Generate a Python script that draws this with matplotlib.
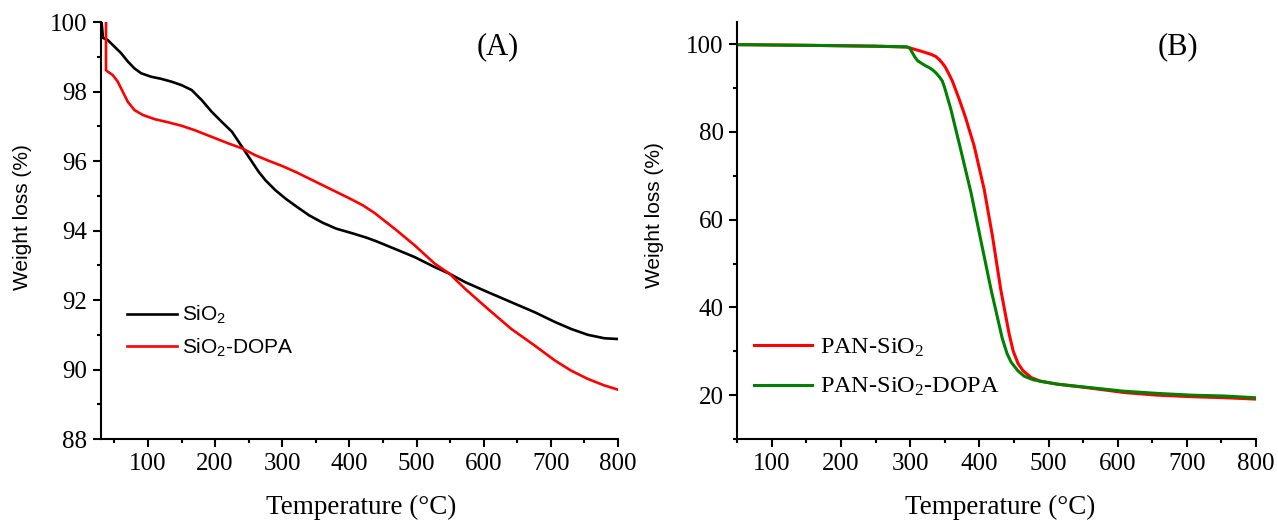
import matplotlib
matplotlib.use("Agg")
import matplotlib.pyplot as plt
from matplotlib.ticker import MultipleLocator

plt.rcParams['font.family'] = ['Liberation Serif', 'DejaVu Serif']
plt.rcParams['mathtext.default'] = 'regular'

# (A) TGA of silica particles
temp_sio2 = [31, 33, 40, 50, 60, 70, 80, 90, 105, 120, 135, 150, 165, 180, 195,
             210, 225, 235, 245, 255, 265, 275, 290, 305, 320, 340, 360, 380,
             405, 425, 438, 467, 497, 527, 549, 572, 606, 641, 676, 706, 730,
             755, 780, 800]
wt_sio2 = [100.0, 99.55, 99.49, 99.30, 99.11, 98.87, 98.67, 98.53, 98.43, 98.37,
           98.29, 98.19, 98.05, 97.76, 97.42, 97.13, 96.85, 96.56, 96.27, 95.98,
           95.69, 95.45, 95.16, 94.92, 94.71, 94.44, 94.23, 94.06, 93.92, 93.80,
           93.71, 93.48, 93.24, 92.95, 92.76, 92.52, 92.23, 91.94, 91.65, 91.37,
           91.17, 91.00, 90.90, 90.88]

temp_sio2_dopa = [37.5, 37.5, 40, 47.5, 55, 62.5, 70, 80, 92.5, 110, 130, 150,
                  170, 195, 220, 240, 260, 280, 300, 320, 340, 360, 380, 400,
                  420, 438, 467, 497, 527, 549, 572, 606, 641, 676, 706, 730,
                  755, 780, 800]
wt_sio2_dopa = [100.0, 98.62, 98.58, 98.48, 98.29, 98.00, 97.71, 97.47, 97.33,
                97.21, 97.12, 97.02, 96.89, 96.70, 96.51, 96.37, 96.17, 96.01,
                95.86, 95.69, 95.50, 95.31, 95.12, 94.93, 94.73, 94.50, 94.06,
                93.58, 93.05, 92.76, 92.33, 91.75, 91.17, 90.69, 90.26, 89.97,
                89.73, 89.54, 89.42]

# (B) TGA of PAN composite fibres
temp_pan = [50, 150, 250, 295, 305, 315, 330, 337, 342, 347, 351, 356, 361, 371,
            380, 392.5, 407, 419, 431, 437, 443, 449, 456, 463, 475, 488, 513,
            561, 609, 657, 706, 754, 800]
wt_pan = [99.9, 99.75, 99.55, 99.35, 98.9, 98.45, 97.7, 97.2, 96.5, 95.6, 94.7,
          93.2, 91.6, 87.4, 83.3, 76.8, 66.9, 56.2, 44.0, 39.0, 34.0, 30.0, 27.2,
          25.6, 24.0, 23.2, 22.5, 21.6, 20.6, 20.0, 19.65, 19.42, 19.1]

temp_pan_dopa = [50, 150, 250, 295, 299, 303, 307, 311, 315, 322, 327, 332, 337,
                 342, 346.5, 350, 354, 358.6, 363.4, 373, 388, 402, 417, 425, 433,
                 440, 446, 456, 465, 478, 490, 513, 561, 609, 657, 706, 754, 800]
wt_pan_dopa = [99.9, 99.75, 99.55, 99.4, 99.2, 98.1, 97.0, 96.2, 95.8, 95.1,
               94.7, 94.2, 93.5, 92.6, 91.6, 90.0, 87.8, 85.3, 82.2, 76.0, 66.1,
               55.4, 44.0, 38.5, 33.0, 29.5, 27.5, 25.5, 24.3, 23.5, 23.1, 22.5,
               21.7, 20.9, 20.4, 20.0, 19.8, 19.4]

fig = plt.figure(figsize=(12.78, 5.23), dpi=100)
axA = fig.add_axes([0.0790, 0.1606, 0.4046, 0.7968])
axB = fig.add_axes([0.5769, 0.1606, 0.4059, 0.7968])


def style_axes(ax):
    for side in ['top', 'right']:
        ax.spines[side].set_visible(False)
    for side in ['left', 'bottom']:
        ax.spines[side].set_linewidth(1.5)
    ax.tick_params(which='major', direction='out', length=5.8, width=1.5,
                   labelsize=18, pad=4)
    ax.tick_params(which='minor', direction='out', length=3, width=1.5)
    ax.xaxis.set_major_locator(MultipleLocator(100))
    ax.xaxis.set_minor_locator(MultipleLocator(50))
    ax.set_xlabel('Temperature (°C)', fontsize=19.5)
    ax.set_ylabel('Weight loss (%)', fontsize=15, family='Liberation Sans')
    ax.xaxis.label.set_va('center')
    ax.yaxis.label.set_va('center')


style_axes(axA)
axA.plot(temp_sio2, wt_sio2, color='black', lw=1.9, label='SiO$_2$')
axA.plot(temp_sio2_dopa, wt_sio2_dopa, color='#ff0000', lw=1.9, label='SiO$_2$-DOPA')
axA.set_xlim(30, 800)
axA.set_ylim(88, 100)
axA.yaxis.set_major_locator(MultipleLocator(2))
axA.yaxis.set_minor_locator(MultipleLocator(1))
axA.xaxis.set_label_coords(0.503, -0.163)
axA.yaxis.set_label_coords(-0.152, 0.533)
axA.text(0.768, 0.941, '(A)', transform=axA.transAxes, fontsize=22,
         ha='center', va='center')
axA.legend(loc='center left', bbox_to_anchor=(0.050, 0.258), frameon=False,
           prop={'family': 'Liberation Sans', 'size': 15}, handlelength=2.4,
           handletextpad=0.25, labelspacing=0.5, borderpad=0, borderaxespad=0)

style_axes(axB)
axB.plot(temp_pan, wt_pan, color='#ff0000', lw=2.2, label='PAN-SiO$_2$')
axB.plot(temp_pan_dopa, wt_pan_dopa, color='#008000', lw=2.2,
         label='PAN-SiO$_2$-DOPA')
axB.set_xlim(50, 800)
axB.set_ylim(10, 105)
axB.yaxis.set_major_locator(MultipleLocator(20))
axB.yaxis.set_minor_locator(MultipleLocator(10))
axB.xaxis.set_label_coords(0.506, -0.163)
axB.yaxis.set_label_coords(-0.159, 0.537)
axB.text(0.850, 0.941, '(B)', transform=axB.transAxes, fontsize=22,
         ha='center', va='center')
axB.legend(loc='center left', bbox_to_anchor=(0.032, 0.172), frameon=False,
           prop={'family': 'Liberation Serif', 'size': 17.5}, handlelength=2.4,
           handletextpad=0.3, labelspacing=0.72, borderpad=0, borderaxespad=0)

fig.savefig('out.png', dpi=100)
